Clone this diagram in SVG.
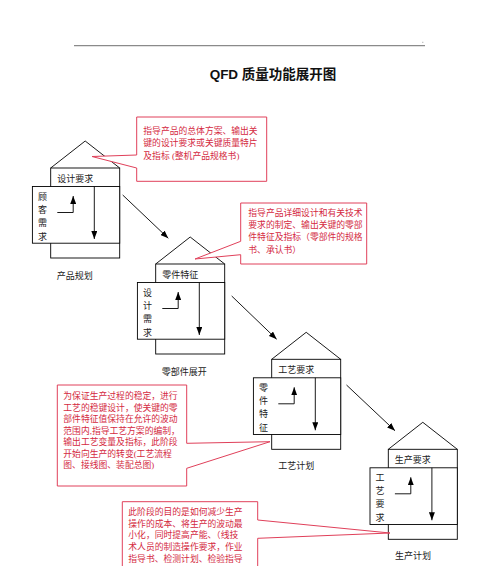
<svg xmlns="http://www.w3.org/2000/svg" width="500" height="566" viewBox="0 0 500 566">
<defs>
<style>
.ln{fill:none;stroke:#000;stroke-width:0.9}
.bx{fill:#fff;stroke:#000;stroke-width:0.9}
.t{font-family:"Liberation Serif","Noto Sans CJK SC",serif;font-size:9px;fill:#222}
.v{font-family:"Liberation Serif","Noto Sans CJK SC",serif;font-size:9px;fill:#222;text-anchor:middle}
.co{fill:#fff;stroke:#e0405a;stroke-width:1}
.ct{font-family:"Liberation Serif","Noto Sans CJK SC",serif;font-size:8.8px;fill:#d42a3f}
.title{font-family:"Liberation Sans","Noto Sans CJK SC",sans-serif;font-size:13.5px;font-weight:bold;fill:#111;text-anchor:middle}
</style>
<marker id="ah" viewBox="0 0 8 6" refX="8" refY="3" markerWidth="8" markerHeight="6" markerUnits="userSpaceOnUse" orient="auto">
<path d="M0,0 L8,3 L0,6 Z" fill="#000"/>
</marker>
<g id="house">
<polyline class="ln" points="0,0 34.5,-27 69,0"/>
<rect class="bx" x="0" y="0" width="69" height="90"/>
<rect class="bx" x="-18.3" y="18.5" width="87.3" height="56.7"/>
<line class="ln" x1="43.6" y1="18.5" x2="43.6" y2="71" marker-end="url(#ah)"/>
<polyline class="ln" points="6.6,44.5 22.5,44.5 22.5,28" marker-end="url(#ah)"/>
</g>
</defs>
<rect width="500" height="566" fill="#fff"/>
<line x1="74" y1="45.7" x2="425" y2="45.7" stroke="#8a8a8a" stroke-width="1.3"/>
<rect x="422.3" y="41.8" width="1" height="1" fill="#999"/>
<text class="title" x="273" y="79">QFD 质量功能展开图</text>

<g id="connectors">
<line class="ln" x1="122.7" y1="195" x2="168.3" y2="238.3" marker-end="url(#ah)"/>
<line class="ln" x1="231.7" y1="296" x2="276.7" y2="339.3" marker-end="url(#ah)"/>
<line class="ln" x1="346.5" y1="385" x2="395" y2="430.7" marker-end="url(#ah)"/>
</g>

<g id="house1" transform="translate(50.7,168)">
<use href="#house"/>
<text class="t" x="6.5" y="13.5">设计要求</text>
<text class="v" x="-8.3" y="31.5">顾</text>
<text class="v" x="-8.3" y="44.8">客</text>
<text class="v" x="-8.3" y="58.2">需</text>
<text class="v" x="-8.3" y="71.5">求</text>
<text class="t" x="6" y="110.5">产品规划</text>
</g>

<g id="house2" transform="translate(155.7,264)">
<use href="#house"/>
<text class="t" x="6.5" y="13.5">零件特征</text>
<text class="v" x="-8.3" y="31.5">设</text>
<text class="v" x="-8.3" y="44.8">计</text>
<text class="v" x="-8.3" y="58.2">需</text>
<text class="v" x="-8.3" y="71.5">求</text>
<text class="t" x="6" y="111">零部件展开</text>
</g>

<g id="house3" transform="translate(271.7,359.3)">
<use href="#house"/>
<text class="t" x="6.5" y="13.5">工艺要求</text>
<text class="v" x="-8.3" y="31.5">零</text>
<text class="v" x="-8.3" y="44.8">件</text>
<text class="v" x="-8.3" y="58.2">特</text>
<text class="v" x="-8.3" y="71.5">征</text>
<text class="t" x="6.6" y="109.8">工艺计划</text>
</g>

<g id="house4" transform="translate(388.3,449.3)">
<use href="#house"/>
<text class="t" x="6.5" y="13.5">生产要求</text>
<text class="v" x="-8.3" y="31.5">工</text>
<text class="v" x="-8.3" y="44.8">艺</text>
<text class="v" x="-8.3" y="58.2">要</text>
<text class="v" x="-8.3" y="71.5">求</text>
<text class="t" x="6.7" y="110">生产计划</text>
</g>

<g id="callout1">
<path class="co" d="M136.7,117 H266.7 V181.3 H136.7 V168 L92,156.5 L136.7,155 Z"/>
<text class="ct" x="143.3" y="133.5">指导产品的总体方案、输出关</text>
<text class="ct" x="143.3" y="145.5">键的设计要求或关键质量特片</text>
<text class="ct" x="143.3" y="158.5">及指标 (整机产品规格书)</text>
</g>

<g id="callout2">
<path class="co" d="M240.7,203 H366.7 V264 H240.7 V254.7 L195,259 L240.7,241.3 Z"/>
<text class="ct" x="248.3" y="216.3">指导产品详细设计和有关技术</text>
<text class="ct" x="248.3" y="228">要求的制定、输出关键的零部</text>
<text class="ct" x="248.3" y="240.3">件特征及指标（零部件的规格</text>
<text class="ct" x="248.3" y="253">书、承认书）</text>
</g>

<g id="callout3">
<path class="co" d="M57.3,385 H186.7 V443.3 L270,441.7 L186.7,468.3 V486 H57.3 Z"/>
<text class="ct" x="63.3" y="399">为保证生产过程的稳定，进行</text>
<text class="ct" x="63.3" y="410.5">工艺的稳键设计，使关键的零</text>
<text class="ct" x="63.3" y="422">部件特征值保持在允许的波动</text>
<text class="ct" x="63.3" y="433.5">范围内,指导工艺方案的编制，</text>
<text class="ct" x="63.3" y="445">输出工艺变量及指标，此阶段</text>
<text class="ct" x="63.3" y="456.5">开始向生产的转变(工艺流程</text>
<text class="ct" x="63.3" y="468">图、接线图、装配总图)</text>
</g>

<g id="callout4">
<path class="co" d="M122.3,501.7 H257.7 V520 L390,533 L257.7,538.3 V580 H122.3 Z"/>
<text class="ct" x="128.3" y="514.8">此阶段的目的是如何减少生产</text>
<text class="ct" x="128.3" y="526.5">操作的成本、将生产的波动最</text>
<text class="ct" x="128.3" y="538.2">小化，同时提高产能、（线技</text>
<text class="ct" x="128.3" y="549.9">术人员的制造操作要求，作业</text>
<text class="ct" x="128.3" y="562">指导书、检测计划、检验指导</text>
</g>
</svg>
